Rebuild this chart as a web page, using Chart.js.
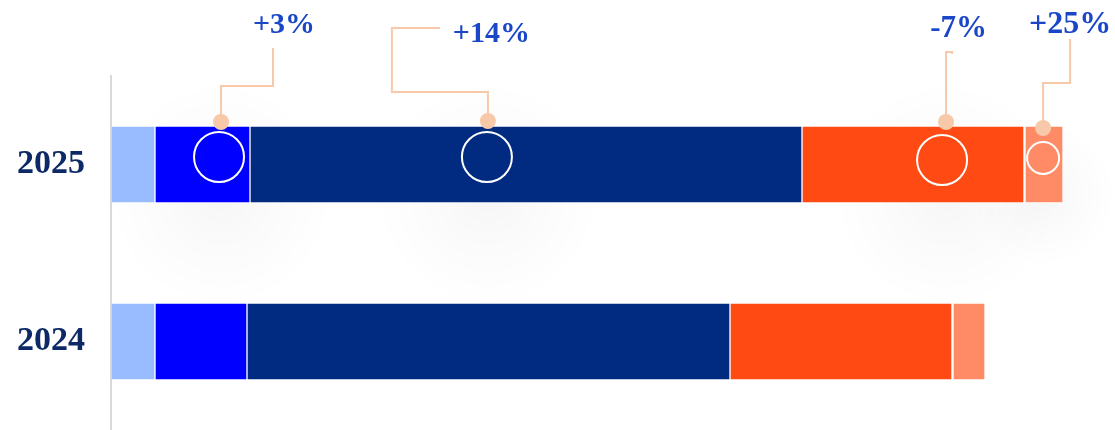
<!DOCTYPE html>
<html>
<head>
<meta charset="utf-8">
<script src="https://cdn.jsdelivr.net/npm/chart.js@4/dist/chart.umd.min.js"></script>
<style>
  html, body { margin: 0; padding: 0; background: #ffffff; overflow: hidden; }
  #wrap { width: 1115px; height: 430px; position: relative; }
  canvas { display: block; }
</style>
</head>
<body>
<div id="wrap"><canvas id="c"></canvas></div>
<script>
// ---- data ----
const categories = ['2025', '2024'];
const seriesNames = ['Segment A', 'Segment B', 'Segment C', 'Segment D', 'Segment E'];
const segmentA = [4.4, 4.4];
const segmentB = [9.5, 9.2];
const segmentC = [55.2, 48.3];
const segmentD = [22.2, 22.2];
const segmentE = [3.9, 3.3];
const changeLabels = ['+3%', '+14%', '-7%', '+25%'];
const changeSeries = [1, 2, 3, 4]; // which segment each change refers to

// ---- styles ----
const colors = ['#99bbff', '#0000ff', '#002b80', '#ff4a14', '#ff8a66'];
const labelColor = '#1a47c8';
const yearColor = '#0d2a66';
const calloutColor = '#f7c9a8';

// annotation layout (relative to the anchor dot on the 2025 bar)
const annotLayout = [
  { frac: 0.695, dotDy: -4, path: [[0,0],[0,-36],[52,-36],[52,-74]], text: [63,-89], size: 30, circle: [-2,35,25] },
  { frac: 0.431, dotDy: -5, path: [[0,0],[0,-29],[-96,-29],[-96,-93],[-48,-93]], text: [3.5,-79], size: 30, circle: [-1,36,25] },
  { frac: 0.649, dotDy: -4, path: [[0,0],[0,-70],[6,-70],[6,-68]], text: [12.5,-85], size: 31, circle: [-4,38,25] },
  { frac: 0.49,  dotDy: 2,  path: [[0,0],[0,-45],[27,-45],[27,-89]], text: [27,-95], size: 32, circle: [0,30,16] }
];

const seriesData = [segmentA, segmentB, segmentC, segmentD, segmentE];

const glowPlugin = {
  id: 'glow',
  beforeDatasetsDraw(chart) {
    const ctx = chart.ctx;
    ctx.save();
    changeSeries.forEach((s, i) => {
      const el = chart.getDatasetMeta(s).data[0];
      const L = annotLayout[i];
      const x = el.base + L.frac * (el.x - el.base);
      const y = el.y + 30;
      const r = L.circle[2] * 4.5;
      const g = ctx.createRadialGradient(x, y, 0, x, y, r);
      g.addColorStop(0, 'rgba(0,0,0,0.035)');
      g.addColorStop(0.5, 'rgba(0,0,0,0.015)');
      g.addColorStop(1, 'rgba(0,0,0,0)');
      ctx.fillStyle = g;
      ctx.fillRect(x - r, y - r, 2 * r, 2 * r);
    });
    ctx.restore();
  }
};

const calloutPlugin = {
  id: 'callouts',
  afterDatasetsDraw(chart) {
    const ctx = chart.ctx;
    ctx.save();
    changeSeries.forEach((s, i) => {
      const el = chart.getDatasetMeta(s).data[0];
      const L = annotLayout[i];
      const top = el.y - el.height / 2;
      const dx = el.base + L.frac * (el.x - el.base);
      const dy = top + L.dotDy;
      // white circle
      ctx.beginPath();
      ctx.arc(dx + L.circle[0], dy + L.circle[1], L.circle[2], 0, Math.PI * 2);
      ctx.strokeStyle = '#ffffff';
      ctx.lineWidth = 2;
      ctx.stroke();
      // callout line
      ctx.beginPath();
      L.path.forEach((p, k) => {
        const px = dx + p[0], py = dy + p[1];
        if (k === 0) ctx.moveTo(px, py); else ctx.lineTo(px, py);
      });
      ctx.strokeStyle = calloutColor;
      ctx.lineWidth = 2;
      ctx.stroke();
      // dot
      ctx.beginPath();
      ctx.arc(dx, dy, 8, 0, Math.PI * 2);
      ctx.fillStyle = calloutColor;
      ctx.fill();
      // label
      ctx.font = 'bold ' + L.size + 'px "Liberation Serif"';
      ctx.fillStyle = labelColor;
      ctx.textAlign = 'center';
      ctx.textBaseline = 'alphabetic';
      ctx.fillText(changeLabels[i], dx + L.text[0], dy + L.text[1]);
    });
    ctx.restore();
  }
};

new Chart(document.getElementById('c'), {
  type: 'bar',
  data: {
    labels: categories,
    datasets: seriesData.map((d, i) => ({
      label: seriesNames[i],
      data: d,
      backgroundColor: colors[i],
      borderColor: i === 4 ? 'rgba(255,255,255,0.9)' : 'rgba(255,255,255,0.22)',
      borderWidth: i === 4 ? { left: 2, top: 1, bottom: 1, right: 1 } : 1,
      borderSkipped: false,
      barThickness: 77
    }))
  },
  options: {
    indexAxis: 'y',
    responsive: true,
    maintainAspectRatio: false,
    animation: false,
    devicePixelRatio: 1,
    layout: { padding: { top: 76, right: 4, bottom: -3, left: 0 } },
    plugins: { legend: { display: false }, tooltip: { enabled: false } },
    scales: {
      x: { display: false, stacked: true, min: 0, max: 100 },
      y: {
        stacked: true,
        afterFit(s) { s.width = 111; s.paddingTop = 0; s.paddingBottom = 0; },
        grid: { display: false },
        border: { display: true, color: '#d9d9d9', width: 2 },
        ticks: {
          padding: 18,
          color: yearColor,
          font: { family: '"Liberation Serif"', weight: 'bold', size: 34 }
        }
      }
    }
  },
  plugins: [glowPlugin, calloutPlugin]
});
</script>
</body>
</html>
